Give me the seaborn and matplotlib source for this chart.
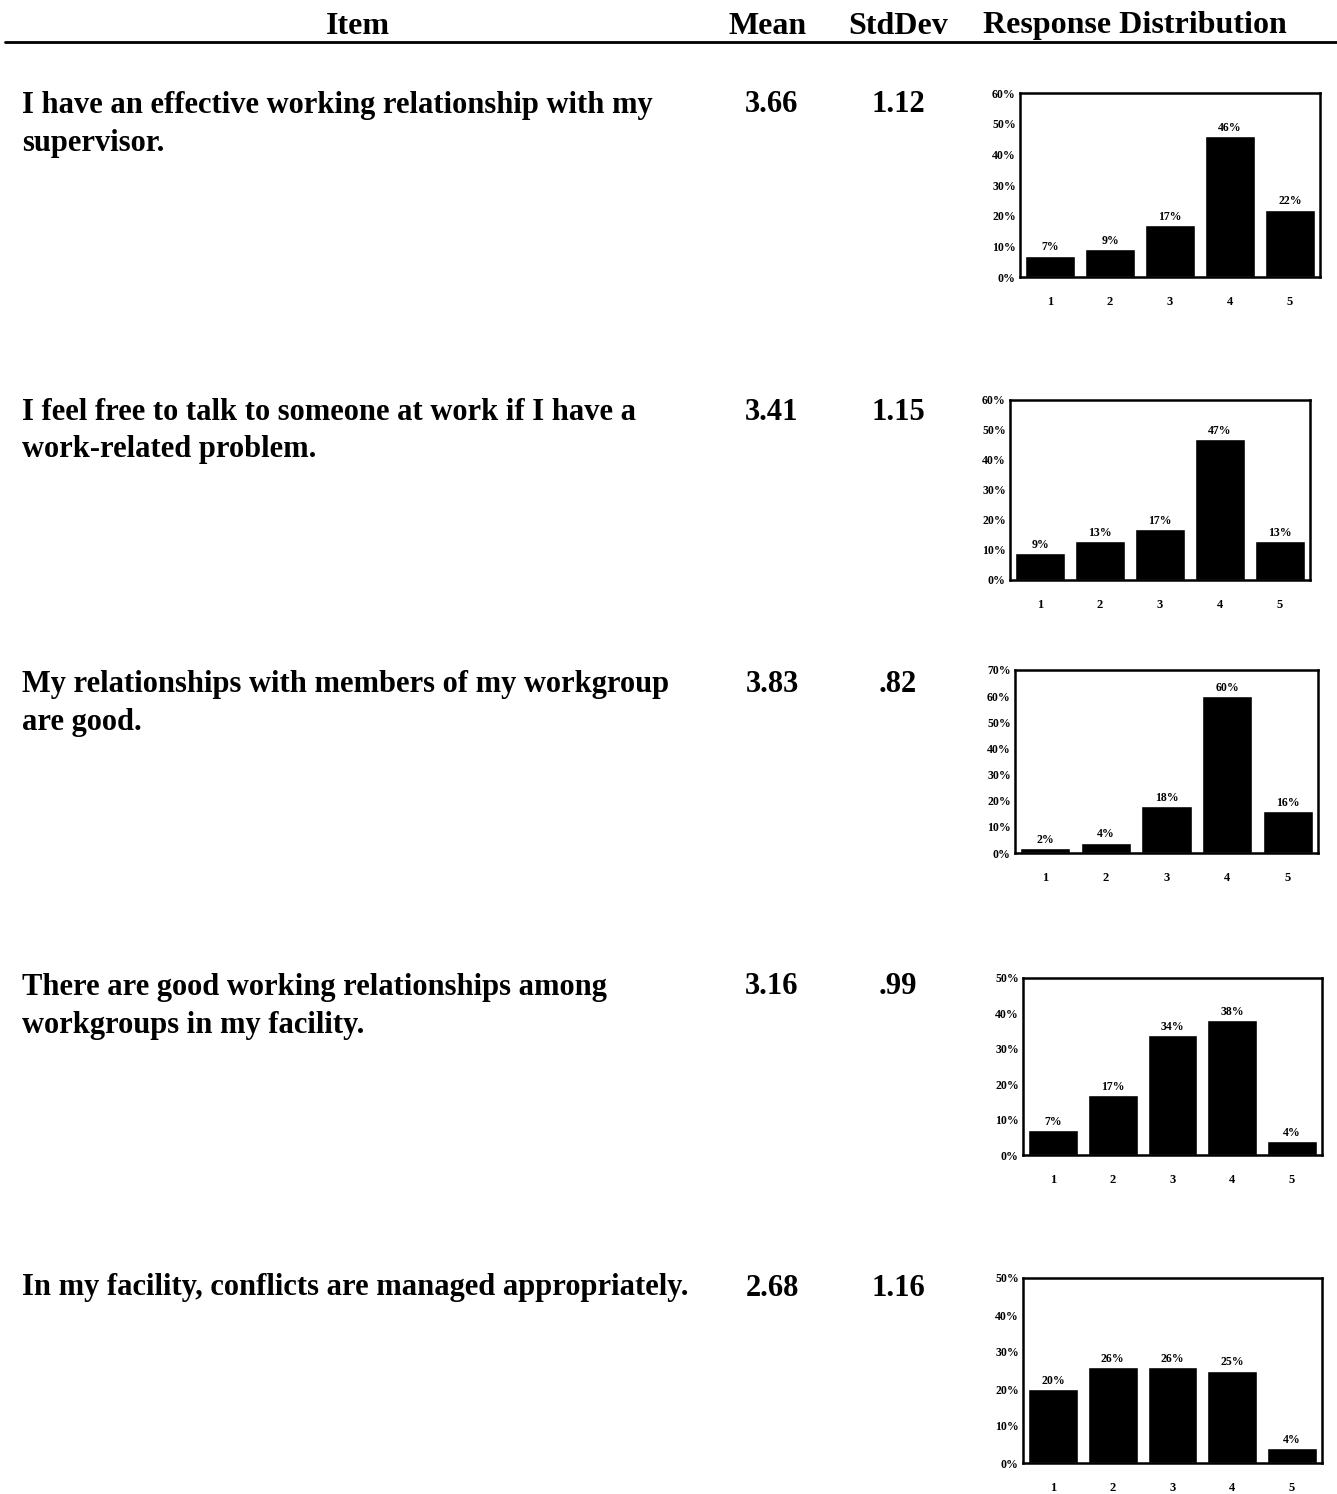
import pandas as pd
from matplotlib import pyplot as plt
import seaborn as sns

# survey items and their summary stats
items = [
    'I have an effective working relationship with my\nsupervisor.',
    'I feel free to talk to someone at work if I have a\nwork-related problem.',
    'My relationships with members of my workgroup\nare good.',
    'There are good working relationships among\nworkgroups in my facility.',
    'In my facility, conflicts are managed appropriately.',
]
means = ['3.66', '3.41', '3.83', '3.16', '2.68']
stddevs = ['1.12', '1.15', '.82', '.99', '1.16']

responses = [1, 2, 3, 4, 5]
dist_1 = [7, 9, 17, 46, 22]
dist_2 = [9, 13, 17, 47, 13]
dist_3 = [2, 4, 18, 60, 16]
dist_4 = [7, 17, 34, 38, 4]
dist_5 = [20, 26, 26, 25, 4]
dists = [dist_1, dist_2, dist_3, dist_4, dist_5]
y_max = [60, 60, 70, 50, 50]

sns.set_theme(style='white')
plt.rcParams['font.family'] = ['Liberation Serif', 'DejaVu Serif']
plt.rcParams['text.color'] = 'black'
plt.rcParams['xtick.color'] = 'black'
plt.rcParams['ytick.color'] = 'black'

W, H = 1337, 1494
fig = plt.figure(figsize=(W / 100, H / 100), dpi=100)

# header
hdr_y = 1 - 26 / H
for x, lab in [(358, 'Item'), (768, 'Mean'), (898, 'StdDev'), (1135, 'Response Distribution')]:
    fig.text(x / W, hdr_y, lab, ha='center', va='center', fontsize=23, fontweight='bold')
fig.add_artist(plt.Line2D([5 / W, 1.0], [1 - 42 / H, 1 - 42 / H], color='black', lw=2))

# row layout in pixels: first-line centre y, axes box (left, top, right, bottom)
row_text_y = [105, 412, 685, 987, 1288]
boxes = [
    (1020, 93, 1320, 277),
    (1010, 400, 1310, 580),
    (1015, 670, 1318, 853),
    (1023, 978, 1322, 1155),
    (1023, 1278, 1322, 1463),
]

for i in range(5):
    ty = 1 - row_text_y[i] / H
    for k, line in enumerate(items[i].split('\n')):
        fig.text(22 / W, ty - k * 38 / H, line, ha='left', va='center', fontsize=22,
                 fontweight='bold')
    fig.text(772 / W, ty, means[i], ha='center', va='center', fontsize=22, fontweight='bold')
    fig.text(898 / W, ty, stddevs[i], ha='center', va='center', fontsize=22, fontweight='bold')

    l, t, r, b = boxes[i]
    ax = fig.add_axes([l / W, 1 - b / H, (r - l) / W, (b - t) / H])
    df = pd.DataFrame({'response': responses, 'pct': dists[i]})
    sns.barplot(data=df, x='response', y='pct', color='black', width=0.83, ax=ax,
                saturation=1)
    for j, v in enumerate(dists[i]):
        ax.text(j, v + y_max[i] * 0.012, f'{v}%', ha='center', va='bottom',
                fontsize=8.5, fontweight='bold')
    ax.set_ylim(0, y_max[i])
    ax.set_xlim(-0.5, 4.5)
    ticks = list(range(0, y_max[i] + 1, 10))
    ax.set_yticks(ticks)
    ax.set_yticklabels([f'{t}%' for t in ticks], fontsize=8.5, fontweight='bold')
    ax.set_xticks(range(5))
    ax.set_xticklabels([str(x) for x in responses], fontsize=9, fontweight='bold')
    ax.tick_params(axis='x', pad=14, length=0)
    ax.tick_params(axis='y', pad=3, length=0)
    ax.set_xlabel('')
    ax.set_ylabel('')
    for s in ax.spines.values():
        s.set_visible(True)
        s.set_color('black')
        s.set_linewidth(1.8)

fig.savefig('out.png', dpi=100)
